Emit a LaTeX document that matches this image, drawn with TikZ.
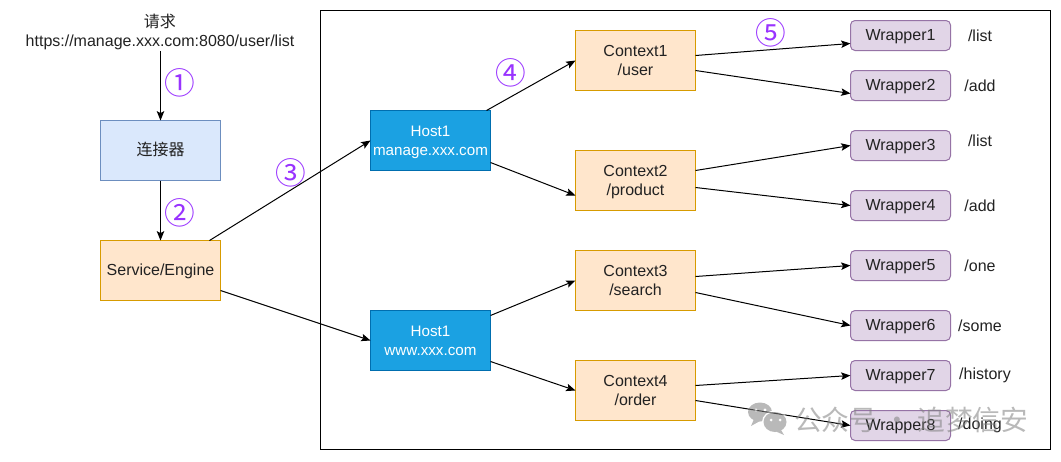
\documentclass[tikz,border=0pt]{standalone}
\usepackage{fontspec}
\setmainfont{Liberation Sans}
\newfontfamily\cjk{Noto Sans CJK SC}
\usetikzlibrary{arrows.meta}
\definecolor{txt}{HTML}{222222}
\definecolor{blueF}{HTML}{DAE8FC}\definecolor{blueD}{HTML}{6C8EBF}
\definecolor{oranF}{HTML}{FFE6CC}\definecolor{oranD}{HTML}{D79B00}
\definecolor{hostF}{HTML}{1BA1E2}\definecolor{hostD}{HTML}{006EAF}
\definecolor{wrapF}{HTML}{E1D5E7}\definecolor{wrapD}{HTML}{9673A6}
\definecolor{numC}{HTML}{9933FF}
\definecolor{wm}{HTML}{808080}
\newcommand\oneln[1]{\raisebox{-3.9pt}[0pt][0pt]{\makebox[0pt]{#1}}}
\newcommand\twoln[2]{\raisebox{2.85pt}[0pt][0pt]{\makebox[0pt]{#1}}\raisebox{-11.5pt}[0pt][0pt]{\makebox[0pt]{#2}}}
\tikzset{
 every node/.style={font=\fontsize{12pt}{14.4pt}\selectfont, text=txt, align=center, inner sep=0pt, outer sep=0pt},
 boxa/.style={draw=blueD, fill=blueF, line width=0.75pt, minimum width=90pt, minimum height=45pt},
 boxb/.style={draw=oranD, fill=oranF, line width=0.75pt, minimum width=90pt, minimum height=45pt},
 hostbox/.style={draw=hostD, fill=hostF, line width=0.75pt, minimum width=90pt, minimum height=45pt, text=white, font=\fontsize{11.4pt}{14.4pt}\selectfont},
 wrapbox/.style={draw=wrapD, fill=wrapF, line width=0.75pt, rounded corners=3.4pt, minimum width=75pt, minimum height=22.5pt},
 conn/.style={draw=black, line width=0.75pt, -{Stealth[length=7pt,width=5.6pt,inset=1.4pt]}},
 numlab/.style={font=\cjk\fontsize{23pt}{23pt}\selectfont, text=numC},
 pathlab/.style={anchor=center},
 wmtext/.style={font=\cjk\fontsize{20.8pt}{21pt}\selectfont, text=wm, text opacity=0.55, anchor=west},
}
\begin{document}
\begin{tikzpicture}[x=0.75pt,y=-0.75pt]
\useasboundingbox (0,0) rectangle (1061,461);
\fill[white] (0,0) rectangle (1061,461);
\node[draw=black, line width=0.75pt, minimum width=547.5pt, minimum height=329.25pt, anchor=north west] (frame) at (320.5,10.5) {};
% left column
\node (req) at (160,32) {{\cjk 请求}\\https://manage.xxx.com:8080/user/list};
\node[boxa] (conn) at (160.5,150.5) {\oneln{\cjk 连接器}};
\node[boxb] (svc) at (160.5,270.5) {\oneln{Service/Engine}};
% hosts
\node[hostbox] (h1) at (430.5,140.5) {\twoln{Host1}{manage.xxx.com}};
\node[hostbox] (h2) at (430.5,340.5) {\twoln{Host1}{www.xxx.com}};
% contexts
\node[boxb] (c1) at (635.5,60.5) {\twoln{Context1}{/user}};
\node[boxb] (c2) at (635.5,180.5) {\twoln{Context2}{/product}};
\node[boxb] (c3) at (635.5,280.5) {\twoln{Context3}{/search}};
\node[boxb] (c4) at (635.5,390.5) {\twoln{Context4}{/order}};
% wrappers
\node[wrapbox] (w1) at (900.5,35.5) {\oneln{Wrapper1}};
\node[wrapbox] (w2) at (900.5,85.5) {\oneln{Wrapper2}};
\node[wrapbox] (w3) at (900.5,145.5) {\oneln{Wrapper3}};
\node[wrapbox] (w4) at (900.5,205.5) {\oneln{Wrapper4}};
\node[wrapbox] (w5) at (900.5,265.5) {\oneln{Wrapper5}};
\node[wrapbox] (w6) at (900.5,325.5) {\oneln{Wrapper6}};
\node[wrapbox] (w7) at (900.5,375.5) {\oneln{Wrapper7}};
\node[wrapbox] (w8) at (900.5,425.5) {\oneln{Wrapper8}};
% path labels
\node[pathlab] (p1) at (980,35.7) {/list};
\node[pathlab] (p2) at (980,85.7) {/add};
\node[pathlab] (p3) at (980,140.7) {/list};
\node[pathlab] (p4) at (980,205.7) {/add};
\node[pathlab] (p5) at (980,265.7) {/one};
\node[pathlab] (p6) at (980,325.7) {/some};
\node[pathlab] (p7) at (985,375.7) {/history};
\node[pathlab] (p8) at (980,425.7) {/doing};
% connectors
\draw[conn] (req.south -| conn.north) ++(0,1) -- (conn.north);
\draw[conn] (conn) -- (svc);
\draw[conn] ([xshift=36.75pt]svc.north) -- ([yshift=0pt]h1.west);
\draw[conn] ([yshift=-15pt]svc.east) -- (h2.west);
\draw[conn] ([xshift=42pt]h1.north) -- ([yshift=0pt]c1.west);
\draw[conn] ([yshift=-16.5pt]h1.east) -- ([yshift=-11.25pt]c2.west);
\draw[conn] ([yshift=18.75pt]h2.east) -- (c3.west);
\draw[conn] ([yshift=-15.75pt]h2.east) -- (c4.west);
\draw[conn] ([yshift=3.75pt]c1.east) -- ([yshift=-6pt]w1.west);
\draw[conn] ([yshift=-7.5pt]c1.east) -- ([yshift=-6pt]w2.west);
\draw[conn] ([yshift=7.5pt]c2.east) -- (w3.west);
\draw[conn] ([yshift=-5.25pt]c2.east) -- (w4.west);
\draw[conn] ([yshift=3pt]c3.east) -- (w5.west);
\draw[conn] ([yshift=-9pt]c3.east) -- (w6.west);
\draw[conn] ([yshift=3.75pt]c4.east) -- (w7.west);
\draw[conn] ([yshift=-7.5pt]c4.east) -- (w8.west);
% numbers
\node[numlab] (n1) at (180,83) {①};
\node[numlab] (n2) at (180,213) {②};
\node[numlab] (n3) at (291,173) {③};
\node[numlab] (n4) at (511,73) {④};
\node[numlab] (n5) at (771,33) {⑤};
% watermark
\begin{scope}[opacity=0.55]
\begin{scope}[transparency group]
\fill[wm] (760,412) ellipse [x radius=12, y radius=9.5];
\fill[wm] (754,419) -- (751,426) -- (760,421) -- cycle;
\fill[white] (775,422) ellipse [x radius=13, y radius=11.5];
\fill[wm] (775,422) ellipse [x radius=11.5, y radius=10];
\fill[wm] (781,430) -- (784,435) -- (776,431.5) -- cycle;
\fill[white] (756,410) circle (1.7) (765,410) circle (1.7) (771,420) circle (1.5) (780,420) circle (1.5);
\end{scope}
\end{scope}
\node[wmtext] (wmk) at (794,420) {公众号 · 追梦信安};
\end{tikzpicture}
\end{document}
